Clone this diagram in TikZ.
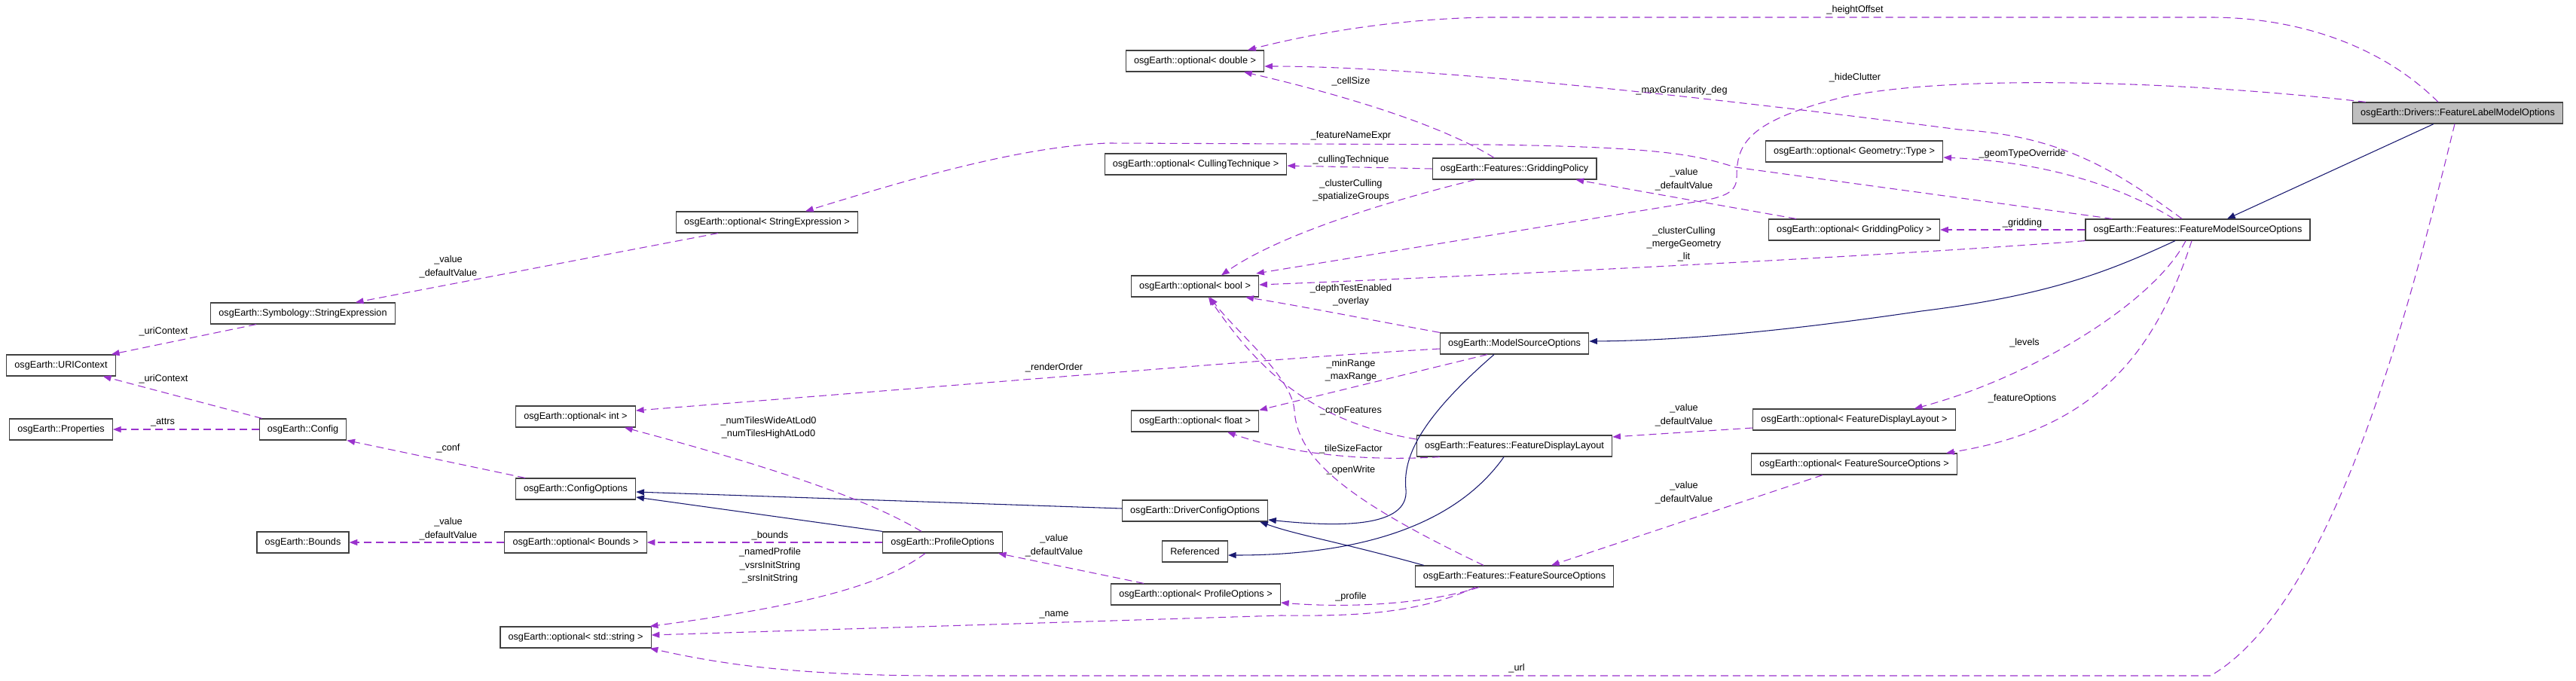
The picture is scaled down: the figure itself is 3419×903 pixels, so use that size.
\documentclass[tikz,border=0pt]{standalone}
\usepackage{fontspec}
\setmainfont{Liberation Sans}
\usetikzlibrary{arrows.meta, calc}

\definecolor{usecol}{RGB}{154,50,205}
\definecolor{inhcol}{RGB}{25,25,112}

\tikzset{
  cls/.style={draw=black!75, line width=0.9pt, rectangle, minimum height=21pt,
    inner xsep=8pt, inner ysep=0pt, font=\fontsize{9.5}{12}\selectfont},
  clsmain/.style={cls, fill=black!25},
  use/.style={draw=usecol, line width=0.8pt, dash pattern=on 7.5pt off 4.5pt,
    -{Triangle[length=8pt,width=6pt]}},
  inh/.style={draw=inhcol, line width=0.8pt, -{Triangle[length=8pt,width=6pt]}},
  lbl/.style={font=\fontsize{9.5}{13}\selectfont, align=center, inner sep=0pt}
}

\begin{document}
\begin{tikzpicture}[x=0.75pt, y=-0.75pt]
  \useasboundingbox (0,0) rectangle (3419,903);
  % classes, right to left
  \node[clsmain] (flmo) at (3262,150) {osgEarth::Drivers::FeatureLabelModelOptions};
  \node[cls] (fmso) at (2917,305) {osgEarth::Features::FeatureModelSourceOptions};
  \node[cls] (optgeom) at (2461,201) {osgEarth::optional< Geometry::Type >};
  \node[cls] (optgrid) at (2461,305) {osgEarth::optional< GriddingPolicy >};
  \node[cls] (optfdl) at (2461,557) {osgEarth::optional< FeatureDisplayLayout >};
  \node[cls] (optfso) at (2461,616) {osgEarth::optional< FeatureSourceOptions >};
  \node[cls] (grid) at (2010,224) {osgEarth::Features::GriddingPolicy};
  \node[cls] (mso) at (2010,456) {osgEarth::ModelSourceOptions};
  \node[cls] (fdl) at (2010,592) {osgEarth::Features::FeatureDisplayLayout};
  \node[cls] (fso) at (2010,765) {osgEarth::Features::FeatureSourceOptions};
  \node[cls] (dbl) at (1586,81) {osgEarth::optional< double >};
  \node[cls] (cull) at (1587,218) {osgEarth::optional< CullingTechnique >};
  \node[cls] (optbool) at (1586,380) {osgEarth::optional< bool >};
  \node[cls] (flt) at (1586,559) {osgEarth::optional< float >};
  \node[cls] (dco) at (1586,678) {osgEarth::DriverConfigOptions};
  \node[cls] (refd) at (1586,732) {Referenced};
  \node[cls] (optpo) at (1587,789) {osgEarth::optional< ProfileOptions >};
  \node[cls] (optse) at (1018,295) {osgEarth::optional< StringExpression >};
  \node[cls] (po) at (1251,720) {osgEarth::ProfileOptions};
  \node[cls] (optint) at (764,553) {osgEarth::optional< int >};
  \node[cls] (cfgopt) at (764,649) {osgEarth::ConfigOptions};
  \node[cls] (optbnd) at (764,720) {osgEarth::optional< Bounds >};
  \node[cls] (optstr) at (764,846) {osgEarth::optional< std::string >};
  \node[cls] (strexp) at (402,416) {osgEarth::Symbology::StringExpression};
  \node[cls] (cfg) at (402,570) {osgEarth::Config};
  \node[cls] (bnd) at (402,720) {osgEarth::Bounds};
  \node[cls] (uri) at (81,485) {osgEarth::URIContext};
  \node[cls] (props) at (81,570) {osgEarth::Properties};

  % inheritance
  \draw[inh] ($(flmo.south)+(-32,0)$) -- ($(fmso.north)+(39,0)$);
  \draw[inh] ($(fmso.south)+(-30,0)$) .. controls (2800,360) and (2720,392) .. (2550,413)
    .. controls (2400,435) and (2250,452) .. ($(mso.east)+(0,-3)$);
  \draw[inh] ($(mso.south)+(-27,0)$) .. controls (1880,560) and (1862,610) .. (1866,650)
    .. controls (1870,700) and (1780,700) .. ($(dco.east)+(0,12)$);
  \draw[inh] ($(fso.north west)+(12,0)$) .. controls (1780,720) and (1720,710) .. ($(dco.south east)+(-11,0)$);
  \draw[inh] ($(fdl.south)+(-14,0)$) .. controls (1930,700) and (1800,737) .. ($(refd.east)+(0,5)$);
  \draw[inh] ($(dco.west)+(0,-3)$) -- ($(cfgopt.east)+(0,4)$);
  \draw[inh] (po.north west) -- ($(cfgopt.east)+(0,11)$);

  % members of FeatureLabelModelOptions
  \draw[use] ($(flmo.north)+(-26,0)$) .. controls (3150,50) and (3030,23) .. (2934,23) -- (1974,23)
    .. controls (1850,25) and (1740,45) .. ($(dbl.north)+(70,0)$);
  \draw[use] ($(flmo.north west)+(18,0)$) .. controls (2900,108) and (2600,98) .. (2450,128)
    .. controls (2320,160) and (2305,190) .. (2305,235) .. controls (2305,255) and (2290,262) .. (2250,268)
    -- ($(optbool.east)+(-4,-17)$);
  \draw[use] ($(flmo.south)+(-4,0)$) .. controls (3200,400) and (3100,800) .. (2934,897) -- (1250,897)
    .. controls (1050,897) and (950,880) .. ($(optstr.south east)+(-2,0)$);
  % members of FeatureModelSourceOptions
  \draw[use] ($(fmso.north)+(-21,0)$) .. controls (2800,220) and (2730,180) .. (2600,172)
    .. controls (2300,133) and (1900,88) .. ($(dbl.east)+(0,7)$);
  \draw[use] ($(fmso.north west)+(36,0)$) -- (2303,222) .. controls (2250,205) and (2200,195) .. (1974,192)
    -- (1470,190) .. controls (1350,195) and (1200,240) .. ($(optse.north)+(51,0)$);
  \draw[use] ($(fmso.north)+(-32,0)$) .. controls (2820,250) and (2720,215) .. ($(optgeom.east)+(0,8)$);
  \draw[use] (fmso.west) -- (optgrid.east);
  \draw[use] (fmso.south west) .. controls (2500,340) and (2000,365) .. ($(optbool.east)+(0,-2)$);
  \draw[use] ($(fmso.south)+(-16,0)$) .. controls (2860,400) and (2700,500) .. ($(optfdl.north east)+(-55,0)$);
  \draw[use] ($(fmso.south)+(-8,0)$) .. controls (2860,470) and (2780,570) .. ($(optfso.north east)+(-15,0)$);
  % optional wrappers
  \draw[use] ($(optgrid.north west)+(37,0)$) -- ($(grid.south east)+(-28,0)$);
  \draw[use] ($(optfdl.west)+(0,11)$) -- ($(fdl.east)+(0,-12)$);
  \draw[use] ($(optfso.south)+(-42,0)$) -- ($(fso.north)+(49,0)$);
  \draw[use] ($(optpo.north west)+(44,0)$) -- ($(po.south east)+(-6,0)$);
  \draw[use] (optbnd.west) -- (bnd.east);
  \draw[use] ($(optse.south west)+(56,0)$) -- ($(strexp.north east)+(-53,0)$);
  % GriddingPolicy
  \draw[use] ($(grid.north)+(-27,0)$) .. controls (1920,170) and (1800,130) .. ($(dbl.south)+(65,0)$);
  \draw[use] (grid.west) -- ($(cull.east)+(0,2)$);
  \draw[use] ($(grid.south)+(-52,0)$) .. controls (1850,265) and (1700,310) .. ($(optbool.north)+(35,0)$);
  % ModelSourceOptions
  \draw[use] (mso.north west) .. controls (1810,423) and (1720,405) .. ($(optbool.south east)+(-18,0)$);
  \draw[use] ($(mso.west)+(0,7)$) .. controls (1750,472) and (1600,485) .. ($(optint.east)+(0,-8)$);
  \draw[use] ($(mso.south)+(-36,0)$) -- (flt.north east);
  % FeatureDisplayLayout
  \draw[use] ($(fdl.south west)+(31,0)$) .. controls (1820,612) and (1720,605) .. ($(flt.south)+(43,0)$);
  \draw[use] ($(fdl.west)+(0,-9)$) .. controls (1740,560) and (1670,490) .. ($(optbool.south)+(18,0)$);
  % FeatureSourceOptions
  \draw[use] ($(fso.north)+(-41,0)$) .. controls (1790,665) and (1722,610) .. (1718,545)
    .. controls (1715,500) and (1640,440) .. ($(optbool.south)+(20,0)$);
  \draw[use] ($(fso.south)+(-47,0)$) .. controls (1900,800) and (1800,808) .. ($(optpo.east)+(0,11)$);
  \draw[use] ($(fso.south)+(-52,0)$) .. controls (1880,815) and (1800,818) .. (1700,817) -- ($(optstr.east)+(0,-3)$);
  % ProfileOptions
  \draw[use] ($(po.north)+(-28,0)$) .. controls (1180,680) and (1100,640) .. ($(optint.south east)+(-15,0)$);
  \draw[use] (po.west) -- (optbnd.east);
  \draw[use] ($(po.south)+(-23,0)$) .. controls (1180,770) and (1100,800) .. ($(optstr.north east)+(-2,0)$);
  % ConfigOptions, Config, StringExpression
  \draw[use] ($(cfgopt.north)+(-67,0)$) -- (cfg.south east);
  \draw[use] (cfg.west) -- (props.east);
  \draw[use] ($(cfg.north west)+(4,0)$) -- ($(uri.south east)+(-17,0)$);
  \draw[use] ($(strexp.south west)+(61,0)$) -- ($(uri.north east)+(-6,0)$);

  % edge labels
  \node[lbl] (lho) at (2462,13) {\_heightOffset};
  \node[lbl] (lhc) at (2462,103) {\_hideClutter};
  \node[lbl] (lmg) at (2232,120) {\_maxGranularity\_deg};
  \node[lbl] (lcs) at (1793,108) {\_cellSize};
  \node[lbl] (lfne) at (1793,180) {\_featureNameExpr};
  \node[lbl] (lct) at (1793,212) {\_cullingTechnique};
  \node[lbl] (lcsg) at (1793,253) {\_clusterCulling\\\_spatializeGroups};
  \node[lbl] (lgpv) at (2235,238) {\_value\\\_defaultValue};
  \node[lbl] (lgto) at (2684,204) {\_geomTypeOverride};
  \node[lbl] (lgr) at (2684,296) {\_gridding};
  \node[lbl] (lcml) at (2235,324) {\_clusterCulling\\\_mergeGeometry\\\_lit};
  \node[lbl] (ldo) at (1793,392) {\_depthTestEnabled\\\_overlay};
  \node[lbl] (llv) at (2687,455) {\_levels};
  \node[lbl] (lro) at (1399,488) {\_renderOrder};
  \node[lbl] (lmm) at (1793,492) {\_minRange\\\_maxRange};
  \node[lbl] (lcf) at (1793,545) {\_cropFeatures};
  \node[lbl] (lfdlv) at (2235,551) {\_value\\\_defaultValue};
  \node[lbl] (lfo) at (2684,529) {\_featureOptions};
  \node[lbl] (ltsf) at (1793,596) {\_tileSizeFactor};
  \node[lbl] (low) at (1793,624) {\_openWrite};
  \node[lbl] (lfsov) at (2235,654) {\_value\\\_defaultValue};
  \node[lbl] (lnt) at (1020,568) {\_numTilesWideAtLod0\\\_numTilesHighAtLod0};
  \node[lbl] (lbd) at (1022,711) {\_bounds};
  \node[lbl] (lnp) at (1022,751) {\_namedProfile\\\_vsrsInitString\\\_srsInitString};
  \node[lbl] (lpov) at (1399,724) {\_value\\\_defaultValue};
  \node[lbl] (lpr) at (1793,792) {\_profile};
  \node[lbl] (lnm) at (1399,816) {\_name};
  \node[lbl] (lurl) at (2013,887) {\_url};
  \node[lbl] (lconf) at (595,595) {\_conf};
  \node[lbl] (lat) at (216,561) {\_attrs};
  \node[lbl] (luc1) at (217,440) {\_uriContext};
  \node[lbl] (luc2) at (217,503) {\_uriContext};
  \node[lbl] (lbv) at (595,702) {\_value\\\_defaultValue};
  \node[lbl] (lsev) at (595,354) {\_value\\\_defaultValue};
\end{tikzpicture}
\end{document}
